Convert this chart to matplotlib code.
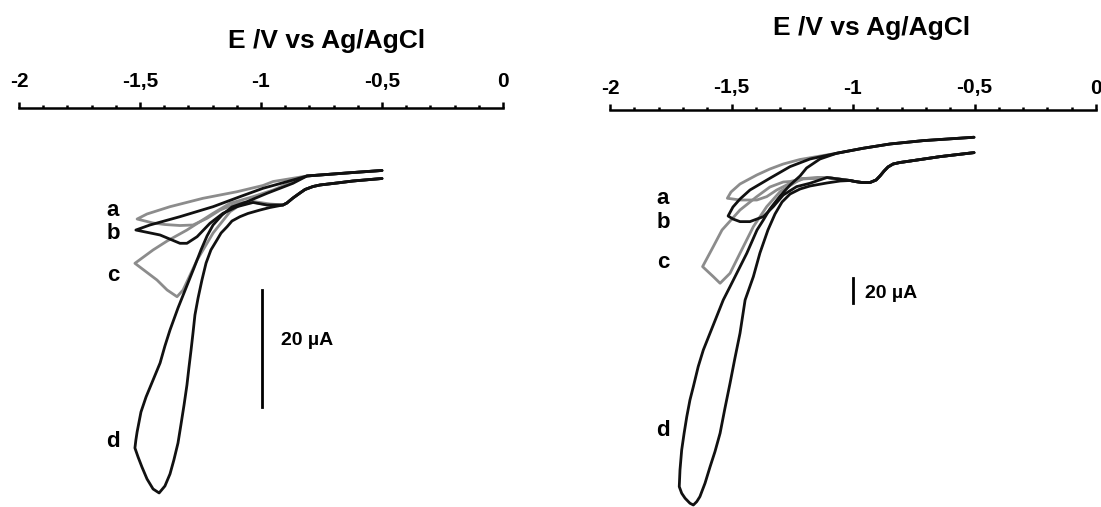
import numpy as np
import matplotlib
matplotlib.use("Agg")
import matplotlib.pyplot as plt
from matplotlib.ticker import MultipleLocator, FuncFormatter

plt.rcParams['font.family'] = ['Liberation Sans', 'DejaVu Sans']
plt.rcParams['font.weight'] = 'bold'

GRAY = '#8c8c8c'
BLACK = '#111111'

# ---------------- left panel (E in V, I in uA) ----------------
# shared forward start (from -0.5 V, through the wave)
L_fwd_E = [-0.500, -0.620, -0.686, -0.756, -0.785, -0.818, -0.839, -0.868, -0.893, -0.909]
L_fwd_I = [-1.28, -1.71, -2.05, -2.39, -2.65, -3.16, -3.76, -4.62, -5.47, -5.81]
# shared return end (back to -0.5 V)
L_rev_E = [-0.810, -0.620, -0.500]
L_rev_I = [-0.85, -0.26, 0.09]

La_fwd_E = [-0.963, -1.033, -1.099, -1.169, -1.223, -1.281, -1.335, -1.397, -1.446, -1.512]
La_fwd_I = [-5.64, -5.21, -5.52, -6.67, -8.09, -9.23, -9.32, -9.15, -8.89, -8.21]
La_rev_E = [-1.471, -1.376, -1.240, -1.099, -0.992, -0.950]
La_rev_I = [-7.35, -6.10, -4.67, -3.54, -2.48, -1.80]

Lb_fwd_E = [-0.975, -1.033, -1.099, -1.157, -1.211, -1.264, -1.306, -1.335, -1.417, -1.517]
Lb_fwd_I = [-5.81, -5.38, -6.10, -7.23, -8.94, -11.23, -12.36, -12.36, -10.94, -10.09]
Lb_rev_E = [-1.459, -1.335, -1.198, -1.087, -0.992, -0.868]
Lb_rev_I = [-9.23, -7.81, -6.10, -4.39, -2.96, -1.54]

Lc_fwd_E = [-0.975, -1.033, -1.087, -1.128, -1.198, -1.264, -1.322, -1.347, -1.388, -1.430, -1.521]
Lc_fwd_I = [-5.81, -5.30, -5.81, -6.96, -10.60, -15.21, -20.34, -21.49, -20.34, -18.63, -15.78]
Lc_rev_E = [-1.446, -1.388, -1.306, -1.198, -1.128, -1.033, -0.950, -0.868]
Lc_rev_I = [-13.50, -11.97, -10.09, -7.23, -5.52, -4.39, -3.25, -1.80]

Ld_fwd_E = [-0.963, -1.004, -1.054, -1.087, -1.120, -1.140, -1.165, -1.182, -1.207, -1.227,
            -1.244, -1.260, -1.273, -1.281, -1.289, -1.298, -1.306, -1.318, -1.331, -1.343,
            -1.360, -1.376, -1.397, -1.421, -1.446, -1.471, -1.492, -1.508, -1.521]
Ld_fwd_I = [-6.24, -6.67, -7.26, -7.81, -8.55, -9.52, -10.60, -11.79, -13.50, -15.73,
            -18.63, -21.71, -24.62, -27.69, -30.60, -33.68, -36.58, -40.00, -43.42, -46.50,
            -49.40, -51.79, -53.85, -55.04, -54.36, -52.65, -50.60, -48.89, -47.35]
Ld_rev_E = [-1.517, -1.512, -1.504, -1.496, -1.475, -1.446, -1.417, -1.397, -1.376, -1.343,
            -1.310, -1.277, -1.248, -1.223, -1.198, -1.161, -1.120, -1.058, -0.975, -0.868]
Ld_rev_I = [-45.98, -44.62, -42.91, -41.20, -38.63, -35.73, -32.82, -29.91, -27.18, -23.42,
            -20.00, -16.58, -13.50, -11.11, -9.23, -7.52, -6.15, -5.25, -3.81, -2.10]

# ---------------- right panel (E in V, I in uA) ----------------
R_fwd_E = [-0.502, -0.642, -0.778, -0.807, -0.835, -0.856, -0.872, -0.889, -0.905, -0.930,
           -0.963, -0.992, -1.012]
R_fwd_I = [-12.3, -15.5, -19.4, -20.2, -21.4, -23.8, -27.0, -31.0, -34.2, -36.2,
           -36.2, -35.4, -34.6]
R_rev_E = [-1.067, -0.958, -0.848, -0.711, -0.502]
R_rev_I = [-12.8, -8.8, -5.4, -2.7, 0.0]

Ra_fwd_E = [-1.107, -1.206, -1.259, -1.314, -1.355, -1.396, -1.465, -1.517]
Ra_fwd_I = [-32.2, -33.4, -36.8, -42.2, -47.5, -50.2, -50.2, -48.8]
Ra_rev_E = [-1.502, -1.465, -1.396, -1.342, -1.287, -1.218, -1.149]
Ra_rev_I = [-43.8, -37.4, -30.2, -25.4, -21.4, -17.8, -15.5]

Rb_fwd_E = [-1.107, -1.177, -1.232, -1.287, -1.328, -1.369, -1.424, -1.465, -1.494, -1.514]
Rb_fwd_I = [-32.2, -36.8, -39.5, -46.2, -55.5, -63.5, -67.5, -67.5, -65.4, -63.0]
Rb_rev_E = [-1.494, -1.465, -1.424, -1.342, -1.259, -1.177]
Rb_rev_I = [-55.8, -49.4, -42.2, -32.8, -23.5, -17.4]

Rc_fwd_E = [-1.107, -1.206, -1.232, -1.300, -1.355, -1.410, -1.465, -1.506, -1.547, -1.575, -1.619]
Rc_fwd_I = [-32.2, -33.0, -35.5, -43.5, -55.5, -71.5, -92.8, -108.8, -116.8, -111.5, -103.5]
Rc_rev_E = [-1.575, -1.539, -1.465, -1.396, -1.342, -1.287, -1.259, -1.206, -1.107]
Rc_rev_I = [-87.5, -74.2, -58.2, -47.5, -39.8, -35.8, -35.4, -33.0, -32.2]

Rd_fwd_E = [-1.053, -1.108, -1.177, -1.218, -1.259, -1.292, -1.321, -1.350, -1.383, -1.410,
            -1.444, -1.465, -1.486, -1.506, -1.527, -1.547, -1.568, -1.588, -1.609, -1.630,
            -1.643, -1.657]
Rd_fwd_I = [-35.0, -36.6, -39.0, -41.4, -45.4, -51.8, -61.4, -74.2, -92.6, -111.5,
            -130.2, -156.8, -176.8, -196.8, -216.8, -236.8, -251.5, -263.5, -276.8, -287.5,
            -291.5, -294.2]
Rd_rev_E = [-1.671, -1.691, -1.705, -1.715, -1.712, -1.705, -1.695, -1.684, -1.671, -1.657,
            -1.637, -1.616, -1.575, -1.534, -1.506, -1.437, -1.395, -1.369, -1.342, -1.300,
            -1.259, -1.218, -1.191, -1.136]
Rd_rev_I = [-292.8, -288.8, -284.8, -279.5, -266.2, -250.2, -236.8, -223.5, -210.2, -199.5,
            -183.5, -170.2, -150.2, -130.2, -119.5, -92.8, -74.2, -66.2, -57.4, -47.0,
            -38.2, -31.0, -24.6, -17.4]

curve_labels = ['a', 'b', 'c', 'd']
L_label_E = -1.612
L_label_I = [-6.67, -10.60, -17.78, -46.32]
R_label_E = -1.782
R_label_I = [-48.6, -67.8, -100.6, -234.2]


def comma(v, pos):
    return ('%g' % v).replace('.', ',')


def setup_axis(ax, pad):
    ax.set_xlim(-2, 0)
    for s in ['left', 'right', 'bottom']:
        ax.spines[s].set_visible(False)
    ax.spines['top'].set_linewidth(1.8)
    ax.yaxis.set_visible(False)
    ax.xaxis.tick_top()
    ax.xaxis.set_major_locator(MultipleLocator(0.5))
    ax.xaxis.set_minor_locator(MultipleLocator(0.1))
    ax.xaxis.set_major_formatter(FuncFormatter(comma))
    ax.tick_params(axis='x', which='major', direction='out', length=4, width=1.8,
                   labelsize=15, pad=pad)
    ax.tick_params(axis='x', which='minor', direction='out', length=2.5, width=1.8)
    ax.patch.set_visible(False)


def loop(fwd_E, fwd_I, cf_E, cf_I, rev_E, rev_I, cr_E, cr_I):
    E = np.concatenate([cf_E, fwd_E, rev_E, cr_E])
    I = np.concatenate([cf_I, fwd_I, rev_I, cr_I])
    return E, I


def draw(ax, E, I, col):
    ax.plot(E, I, color=col, lw=2.0, solid_joinstyle='round', solid_capstyle='round',
            clip_on=False)


def main():
    fig = plt.figure(figsize=(11.01, 5.07), dpi=100)

    # left panel
    ax1 = fig.add_axes([19 / 1101, 0, 484 / 1101, 399 / 507])
    setup_axis(ax1, 8)
    ax1.set_ylim(-57.44, 10.77)
    curves = [(La_fwd_E, La_fwd_I, La_rev_E, La_rev_I, GRAY),
              (Lc_fwd_E, Lc_fwd_I, Lc_rev_E, Lc_rev_I, GRAY),
              (Lb_fwd_E, Lb_fwd_I, Lb_rev_E, Lb_rev_I, BLACK),
              (Ld_fwd_E, Ld_fwd_I, Ld_rev_E, Ld_rev_I, BLACK)]
    for fE, fI, rE, rI, col in curves:
        E, I = loop(fE, fI, L_fwd_E, L_fwd_I, rE, rI, L_rev_E, L_rev_I)
        draw(ax1, E, I, col)
    for lab, yi in zip(curve_labels, L_label_I):
        ax1.text(L_label_E, yi, lab, fontsize=16, fontweight='bold', ha='center', va='center')
    ax1.plot([-0.995, -0.995], [-20.34, -40.34], color='black', lw=2.0)
    ax1.text(-0.919, -29.06, '20 µA', fontsize=14, fontweight='bold', ha='left', va='center')

    # right panel
    ax2 = fig.add_axes([610 / 1101, 0, 486 / 1101, 397 / 507])
    setup_axis(ax2, 5)
    ax2.set_ylim(-295.8, 21.8)
    Rc_E = np.concatenate([R_fwd_E, Rc_fwd_E, Rc_rev_E, R_fwd_E[::-1]])
    Rc_I = np.concatenate([R_fwd_I, Rc_fwd_I, Rc_rev_I, R_fwd_I[::-1]])
    Ra_E, Ra_I = loop(Ra_fwd_E, Ra_fwd_I, R_fwd_E, R_fwd_I, Ra_rev_E, Ra_rev_I, R_rev_E, R_rev_I)
    Rb_E, Rb_I = loop(Rb_fwd_E, Rb_fwd_I, R_fwd_E, R_fwd_I, Rb_rev_E, Rb_rev_I, R_rev_E, R_rev_I)
    Rd_E, Rd_I = loop(Rd_fwd_E, Rd_fwd_I, R_fwd_E, R_fwd_I, Rd_rev_E, Rd_rev_I, R_rev_E, R_rev_I)
    draw(ax2, Ra_E, Ra_I, GRAY)
    draw(ax2, Rc_E, Rc_I, GRAY)
    draw(ax2, Rb_E, Rb_I, BLACK)
    draw(ax2, Rd_E, Rd_I, BLACK)
    for lab, yi in zip(curve_labels, R_label_I):
        ax2.text(R_label_E, yi, lab, fontsize=16, fontweight='bold', ha='center', va='center')
    ax2.plot([-1.0, -1.0], [-112.6, -132.6], color='black', lw=2.0)
    ax2.text(-0.951, -124.6, '20 µA', fontsize=14, fontweight='bold', ha='left', va='center')

    # axis titles
    fig.text(327 / 1101, 1 - 41 / 507, 'E /V vs Ag/AgCl', fontsize=19, fontweight='bold',
             ha='center', va='center')
    fig.text(872 / 1101, 1 - 28 / 507, 'E /V vs Ag/AgCl', fontsize=19, fontweight='bold',
             ha='center', va='center')

    fig.savefig('out.png', dpi=100)


if __name__ == "__main__":
    main()
